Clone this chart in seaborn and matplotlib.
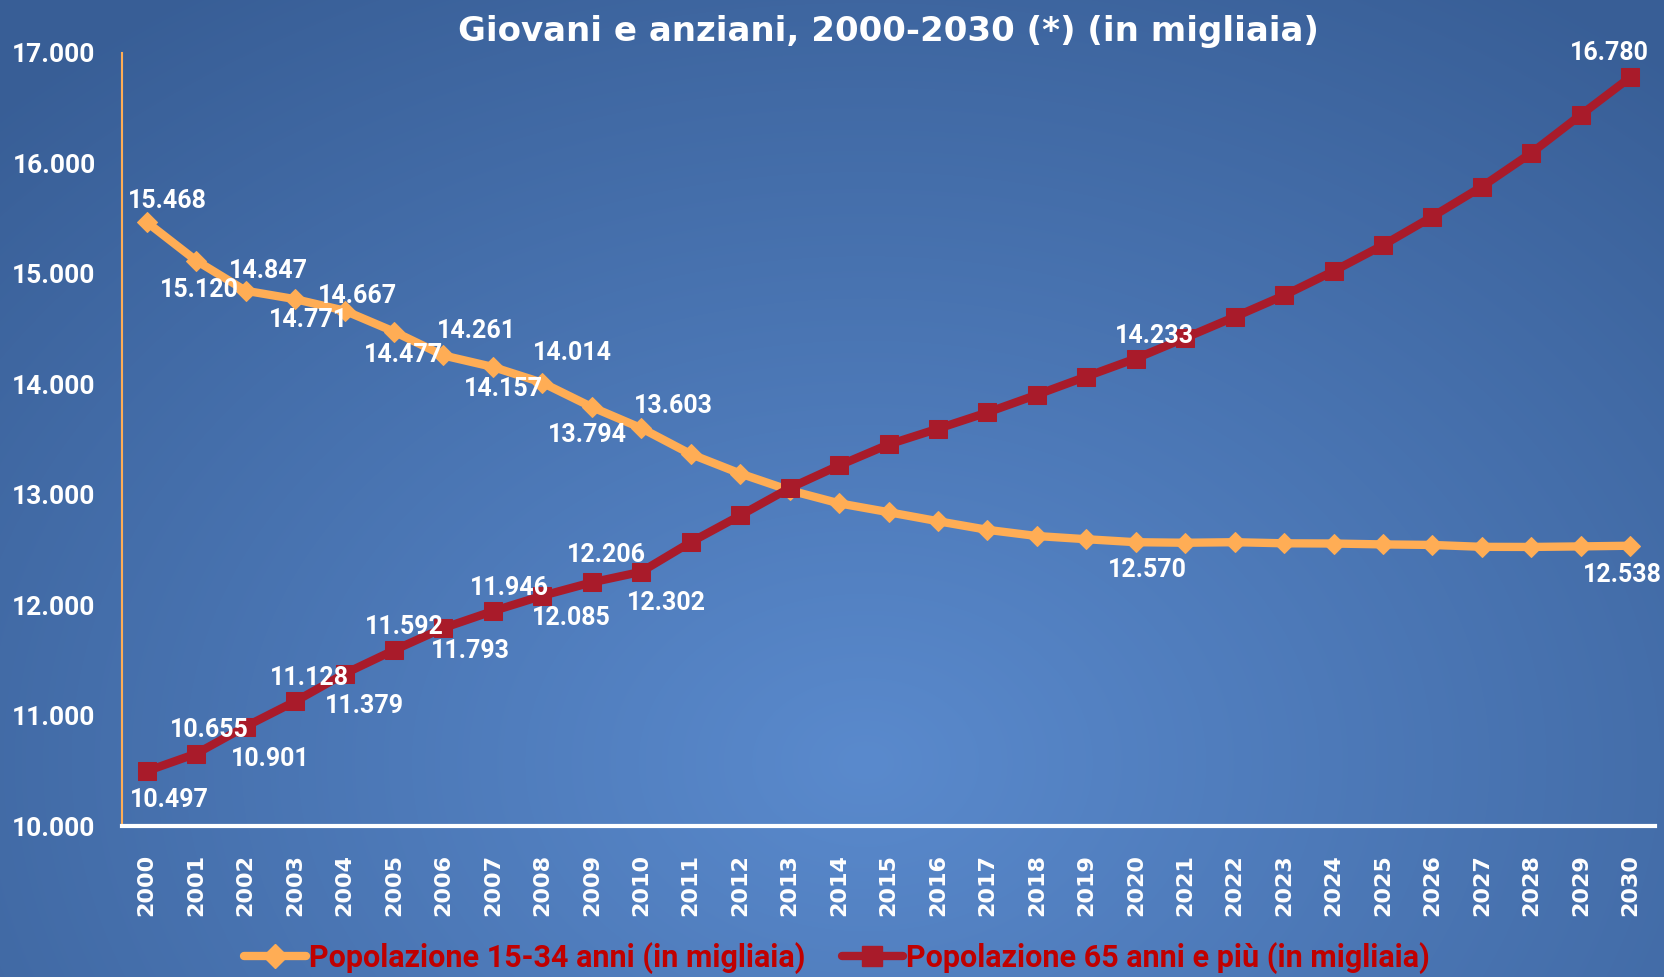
import matplotlib
matplotlib.use("Agg")
import matplotlib.pyplot as plt
import matplotlib.ticker as mticker
from matplotlib import font_manager
from matplotlib.lines import Line2D
import numpy as np
import pandas as pd
import seaborn as sns

# ---------------------------------------------------------------------------
# Data (in migliaia)
# ---------------------------------------------------------------------------
years = list(range(2000, 2031))

giovani = [15468, 15120, 14847, 14771, 14667, 14477, 14261, 14157, 14014, 13794,
           13603, 13368, 13192, 13040, 12922, 12842, 12760, 12682, 12626, 12597,
           12570, 12565, 12570, 12560, 12558, 12550, 12545, 12528, 12527, 12532,
           12538]

anziani = [10497, 10655, 10901, 11128, 11379, 11592, 11793, 11946, 12085, 12206,
           12302, 12570, 12812, 13060, 13265, 13455, 13598, 13745, 13905, 14070,
           14233, 14420, 14610, 14805, 15025, 15260, 15519, 15790, 16095, 16440,
           16780]

labelled_years = [2000, 2001, 2002, 2003, 2004, 2005, 2006, 2007, 2008, 2009, 2010, 2020, 2030]

serie_giovani = "Popolazione 15-34 anni (in migliaia)"
serie_anziani = "Popolazione 65 anni e più (in migliaia)"
title = "Giovani e anziani, 2000-2030 (*) (in migliaia)"

# label offsets in pixels (dx right, dy down), one per labelled year
_OFF_GIOVANI = [(21, -21), (3, 29), (23, -20), (13, 21), (13, -15), (10, 23), (33, -24),
                (11, 22), (30, -30), (-4, 28), (32, -22), (12, 28), (-8, 29)]
_OFF_ANZIANI = [(23, 29), (13, -24), (25, 32), (14, -23), (20, 32), (10, -23), (27, 23),
                (17, -23), (29, 22), (15, -27), (25, 31), (19, -23), (-21, -24)]

ORANGE = "#FFAD55"
RED = "#A91B2A"
LEGEND_RED = "#C00000"

_installed = {f.name for f in font_manager.fontManager.ttflist}
NARROW = "Liberation Sans Narrow" if "Liberation Sans Narrow" in _installed else "Roboto"


def _fmt(v):
    return f"{int(v):,}".replace(",", ".")


df = pd.DataFrame({"anno": years, "giovani": giovani, "anziani": anziani})

sns.set_theme(style="white")
plt.rcParams["font.family"] = ["DejaVu Sans"]

W, H = 1664, 977
fig = plt.figure(figsize=(W / 100, H / 100), dpi=100)
fig.patch.set_facecolor("white")

# ---------------------------------------------------------------------------
# Radial blue gradient background
# ---------------------------------------------------------------------------
bg = fig.add_axes([0, 0, 1, 1], zorder=-5)
yy, xx = np.mgrid[0:H, 0:W]
d = np.sqrt(((xx - 0.52 * W) / (0.75 * W)) ** 2 + ((yy - 0.78 * H) / (0.95 * H)) ** 2)
d = np.clip(d, 0, 1)
light = np.array([90, 138, 205]) / 255
dark = np.array([56, 94, 150]) / 255
img = light[None, None, :] * (1 - d[..., None]) + dark[None, None, :] * d[..., None]
bg.imshow(img, extent=[0, 1, 0, 1], aspect="auto", origin="upper")
bg.axis("off")

# ---------------------------------------------------------------------------
# Main chart
# ---------------------------------------------------------------------------
ax = fig.add_axes([122 / W, 1 - 826 / H, (1655 - 122) / W, (826 - 53) / H])
ax.set_facecolor("none")

sns.lineplot(data=df, x="anno", y="giovani", ax=ax, color=ORANGE, linewidth=6,
             marker="D", markersize=10, markeredgecolor=ORANGE, label=serie_giovani)
sns.lineplot(data=df, x="anno", y="anziani", ax=ax, color=RED, linewidth=6,
             marker="s", markersize=13, markeredgecolor=RED, label=serie_anziani)
ax.get_legend().remove()

ax.set_xlim(years[0] - 0.5, years[-1] + 0.5)
ax.set_ylim(10000, 17000)
ax.set_xticks(years)
ax.set_xticklabels([str(y) for y in years], rotation=90, color="white",
                   fontsize=16, fontweight="bold", family="DejaVu Sans")
ax.yaxis.set_major_locator(mticker.MultipleLocator(1000))
ax.yaxis.set_major_formatter(mticker.FuncFormatter(lambda v, _: _fmt(v)))
for t in ax.get_yticklabels():
    t.set_color("white")
    t.set_fontsize(19)
    t.set_fontweight("bold")
    t.set_family(NARROW)
ax.tick_params(axis="y", length=0, pad=19)
ax.tick_params(axis="x", length=0, pad=20)
ax.set_xlabel("")
ax.set_ylabel("")

for side in ["top", "right"]:
    ax.spines[side].set_visible(False)
ax.spines["left"].set_color(ORANGE)
ax.spines["left"].set_linewidth(1.5)
ax.spines["bottom"].set_color("white")
ax.spines["bottom"].set_linewidth(3)
ax.grid(False)

# data labels
lab = df.set_index("anno")
for yr, (dx, dy) in zip(labelled_years, _OFF_GIOVANI):
    ax.annotate(_fmt(lab.loc[yr, "giovani"]), (yr, lab.loc[yr, "giovani"]),
                xytext=(dx, -dy), textcoords="offset pixels", ha="center", va="center",
                color="white", fontsize=18, fontweight="bold", family=NARROW, zorder=5)
for yr, (dx, dy) in zip(labelled_years, _OFF_ANZIANI):
    ax.annotate(_fmt(lab.loc[yr, "anziani"]), (yr, lab.loc[yr, "anziani"]),
                xytext=(dx, -dy), textcoords="offset pixels", ha="center", va="center",
                color="white", fontsize=18, fontweight="bold", family=NARROW, zorder=5)

fig.text(888 / W, 1 - 32 / H, title, ha="center", va="center", color="white",
         fontsize=24.5, fontweight="bold", family="DejaVu Sans")

handles = [
    Line2D([], [], color=ORANGE, linewidth=6, marker="D", markersize=12),
    Line2D([], [], color=RED, linewidth=6, marker="s", markersize=15),
]
fig.legend(handles, [serie_giovani, serie_anziani], loc="center", ncol=2,
           bbox_to_anchor=(837 / W, 1 - 958 / H), frameon=False,
           handlelength=2.0, handletextpad=0.1, columnspacing=1.2,
           prop={"family": NARROW, "weight": "bold", "size": 22},
           labelcolor=LEGEND_RED)

fig.savefig("out.png", dpi=100)
